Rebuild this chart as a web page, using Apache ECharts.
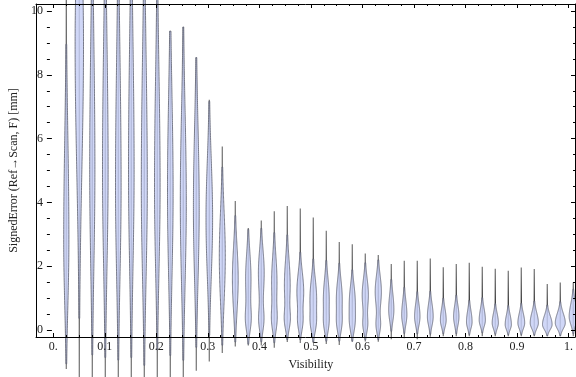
<!DOCTYPE html>
<html>
<head>
<meta charset="utf-8">
<script src="https://cdn.jsdelivr.net/npm/echarts@6/dist/echarts.min.js"></script>
<style>
html,body{margin:0;padding:0;background:#fff}
#chart{width:576px;height:377px}
</style>
</head>
<body>
<div id="chart"></div>
<script>
// 每个小提琴的位置（Visibility）
var visibility = [0.025,0.05,0.075,0.1,0.125,0.15,0.175,0.2,0.225,0.25,
                  0.275,0.3,0.325,0.35,0.375,0.4,0.425,0.45,0.475,0.5,
                  0.525,0.55,0.575,0.6,0.625,0.65,0.675,0.7,0.725,0.75,
                  0.775,0.8,0.825,0.85,0.875,0.9,0.925,0.95,0.975,1.0];
// 最大值 / 最小值（竖线两端）
var maxVal = [11.5,11.5,11.5,11.5,11.5,11.5,11.5,10.8,9.37,9.5,
              8.54,7.22,5.75,4.04,3.2,3.43,3.72,3.89,3.81,3.53,
              3.11,2.76,2.69,2.4,2.35,2.07,2.17,2.17,2.24,1.97,
              2.07,2.11,1.98,1.92,1.86,1.96,1.91,1.44,1.49,1.49];
var minVal = [-1.22,-1.6,-1.6,-1.6,-1.6,-1.6,-1.6,-1.55,-1.55,-1.5,
              -1.28,-0.99,-0.72,-0.52,-0.49,-0.49,-0.56,-0.38,-0.41,-0.4,
              -0.44,-0.47,-0.37,-0.36,-0.37,-0.29,-0.26,-0.29,-0.21,-0.2,
              -0.2,-0.2,-0.2,-0.2,-0.2,-0.2,-0.2,-0.2,-0.2,-0.2];
// 密度的主峰：位置、相对高度、下/上方的扩散
var modeVal = [2.8,9.0,5.0,5.0,4.5,5.0,4.5,4.5,4.3,4.0,
               3.8,3.5,2.3,1.6,1.6,1.8,1.5,1.4,1.2,1.0,
               1.0,1.0,0.9,1.1,1.2,0.63,0.47,0.42,0.42,0.31,
               0.42,0.25,0.31,0.22,0.17,0.22,0.22,0.17,0.22,0.42];
var peak = [0.52,0.84,0.52,0.56,0.56,0.56,0.6,0.56,0.56,0.6,
            0.58,0.66,0.6,0.58,0.54,0.58,0.54,0.58,0.68,0.66,
            0.58,0.58,0.58,0.62,0.62,0.52,0.52,0.54,0.58,0.58,
            0.54,0.56,0.62,0.62,0.62,0.68,0.82,0.96,1.0,0.82];
var sdDown = [2.0,4.0,3.0,3.0,2.8,3.0,2.8,2.6,2.6,2.5,
              2.2,1.8,1.4,1.0,0.9,0.8,0.8,0.7,0.5,0.5,
              0.5,0.5,0.45,0.5,0.5,0.35,0.3,0.28,0.28,0.22,
              0.28,0.2,0.2,0.18,0.16,0.18,0.18,0.16,0.18,0.25];
var sdUp = [3.2,3.0,4.0,4.0,4.0,4.0,4.0,3.5,3.0,2.8,
            2.5,1.8,1.4,1.0,0.8,0.7,0.8,0.8,0.6,0.6,
            0.6,0.55,0.5,0.5,0.5,0.5,0.45,0.4,0.4,0.35,
            0.35,0.35,0.35,0.3,0.3,0.3,0.32,0.28,0.3,0.4];
// 第二个小峰（靠近 0 的那个）
var mode2 = [0,0,0,0,0,0,0,0,0,0,
             0,0,0,0,0.3,0.3,0.3,0.3,0.25,0.2,
             0.2,0.2,0.2,0.15,0.15,0,0,0,0,0,
             0,0,0,0,0,0,0,0,0,0];
var peak2 = [0,0,0,0,0,0,0,0,0,0,
             0,0,0,0,0.4,0.44,0.4,0.44,0.44,0.44,
             0.4,0.4,0.4,0.4,0.4,0,0,0,0,0,
             0,0,0,0,0,0,0,0,0,0];
var sd2 = [1,1,1,1,1,1,1,1,1,1,
           1,1,1,1,0.35,0.35,0.35,0.3,0.3,0.3,
           0.3,0.3,0.3,0.25,0.25,1,1,1,1,1,
           1,1,1,1,1,1,1,1,1,1];
// 刻度标签
var xTickLabels = ['0.','0.1','0.2','0.3','0.4','0.5','0.6','0.7','0.8','0.9','1.'];
var yTickLabels = ['0','2','4','6','8','10'];

var HALF = 5; // 峰值为 1 时的半宽（像素）
var FONT = 'Liberation Serif';

var data = [];
for (var i = 0; i < visibility.length; i++) {
    data.push([visibility[i], minVal[i], maxVal[i], modeVal[i], peak[i], sdDown[i], sdUp[i], mode2[i], peak2[i], sd2[i]]);
}

function renderViolin(params, api) {
    var x = api.value(0), lo = api.value(1), hi = api.value(2);
    var m = api.value(3), p = api.value(4), sd = api.value(5), su = api.value(6);
    var m2 = api.value(7), p2 = api.value(8), s2 = api.value(9);
    var a = api.coord([x, lo]), b = api.coord([x, hi]);
    var cx = a[0];
    var N = 160, pts = [];
    for (var k = 0; k <= N; k++) {
        var y = lo + (hi - lo) * k / N;
        var s = y < m ? sd : su;
        var d = p * Math.exp(-0.5 * Math.pow((y - m) / s, 2));
        if (p2 > 0) d += p2 * Math.exp(-0.5 * Math.pow((y - m2) / s2, 2));
        pts.push([api.coord([x, y])[1], d * HALF]);
    }
    var first = -1, last = -1;
    for (k = 0; k < pts.length; k++) {
        if (pts[k][1] > 0.4) { if (first < 0) first = k; last = k; }
    }
    var children = [];
    // 中间的竖线（最小值到最大值）
    children.push({
        type: 'rect',
        shape: {x: cx - 0.65, y: b[1], width: 1.3, height: a[1] - b[1]},
        style: {
            fill: {
                type: 'linear', x: 0, y: 0, x2: 0, y2: 1,
                colorStops: [
                    {offset: 0, color: 'rgba(95,95,95,0.8)'},
                    {offset: 0.5, color: 'rgba(35,35,35,0.92)'},
                    {offset: 1, color: 'rgba(95,95,95,0.8)'}
                ]
            }
        }
    });
    if (first >= 0) {
        var poly = [];
        for (k = first; k <= last; k++) poly.push([cx - pts[k][1], pts[k][0]]);
        for (k = last; k >= first; k--) poly.push([cx + pts[k][1], pts[k][0]]);
        children.push({
            type: 'polygon',
            shape: {points: poly},
            style: {fill: 'rgba(200,208,246,0.85)', stroke: '#5a5d6c', lineWidth: 0.8}
        });
    }
    return {type: 'group', children: children};
}

var myChart = echarts.init(document.getElementById('chart'));
var black = {color: '#000', width: 1};
var labelStyle = {color: '#222', fontFamily: FONT, fontSize: 12};

myChart.setOption({
    animation: false,
    grid: [
        {left: 36, right: 1, top: 4, bottom: 40},
        {left: 53.3, right: 2.7, top: 4, bottom: 40},
        {left: 36, right: 1, top: 11, bottom: 47}
    ],
    xAxis: [
        {gridIndex: 0, type: 'value', min: -0.0333, max: 1.0033, z: 10,
         axisLine: {show: true, onZero: false, lineStyle: black},
         axisTick: {show: false}, axisLabel: {show: false}, splitLine: {show: false}},
        {gridIndex: 0, type: 'value', position: 'top', min: -0.0333, max: 1.0033, z: 10,
         axisLine: {show: true, onZero: false, lineStyle: black},
         axisTick: {show: false}, axisLabel: {show: false}, splitLine: {show: false}},
        {gridIndex: 1, type: 'value', min: 0, max: 1, interval: 0.1, z: 10,
         axisLine: {show: false, onZero: false},
         axisTick: {inside: true, length: 4, lineStyle: black},
         minorTick: {show: true, splitNumber: 4, length: 2, lineStyle: {color: '#000'}},
         axisLabel: Object.assign({margin: 4, formatter: function (v) {
             return xTickLabels[Math.round(v * 10)];
         }}, labelStyle),
         splitLine: {show: false},
         name: 'Visibility', nameLocation: 'middle', nameGap: 22,
         nameTextStyle: labelStyle},
        {gridIndex: 1, type: 'value', position: 'top', min: 0, max: 1, interval: 0.1, z: 10,
         axisLine: {show: false, onZero: false},
         axisTick: {inside: true, length: 4, lineStyle: black},
         minorTick: {show: true, splitNumber: 4, length: 2, lineStyle: {color: '#000'}},
         axisLabel: {show: false}, splitLine: {show: false}},
        {gridIndex: 2, type: 'value', min: 0, max: 1, show: false}
    ],
    yAxis: [
        {gridIndex: 0, type: 'value', min: -0.22, max: 10.22, z: 10,
         axisLine: {show: true, onZero: false, lineStyle: black},
         axisTick: {show: false}, axisLabel: {show: false}, splitLine: {show: false}},
        {gridIndex: 0, type: 'value', position: 'right', min: -0.22, max: 10.22, z: 10,
         axisLine: {show: true, onZero: false, lineStyle: black},
         axisTick: {show: false}, axisLabel: {show: false}, splitLine: {show: false}},
        {gridIndex: 1, type: 'value', min: 0, max: 1, show: false},
        {gridIndex: 2, type: 'value', min: 0, max: 10, interval: 2, z: 10,
         axisLine: {show: false, onZero: false},
         axisTick: {inside: true, length: 5, lineStyle: black},
         minorTick: {show: true, splitNumber: 4, length: 3, lineStyle: {color: '#000'}},
         axisLabel: Object.assign({margin: 4, formatter: function (v) {
             return yTickLabels[Math.round(v / 2)];
         }}, labelStyle),
         splitLine: {show: false},
         name: 'SignedError (Ref\u2192Scan, F) [mm]', nameLocation: 'middle', nameGap: 20,
         nameRotate: 90, nameTextStyle: labelStyle},
        {gridIndex: 2, type: 'value', position: 'right', min: 0, max: 10, interval: 2, z: 10,
         axisLine: {show: false, onZero: false},
         axisTick: {inside: true, length: 4, lineStyle: black},
         minorTick: {show: true, splitNumber: 4, length: 2, lineStyle: {color: '#000'}},
         axisLabel: {show: false}, splitLine: {show: false}}
    ],
    series: [{
        type: 'custom',
        xAxisIndex: 0,
        yAxisIndex: 0,
        clip: false,
        renderItem: renderViolin,
        encode: {x: 0, y: [1, 2]},
        data: data
    }]
});
</script>
</body>
</html>
